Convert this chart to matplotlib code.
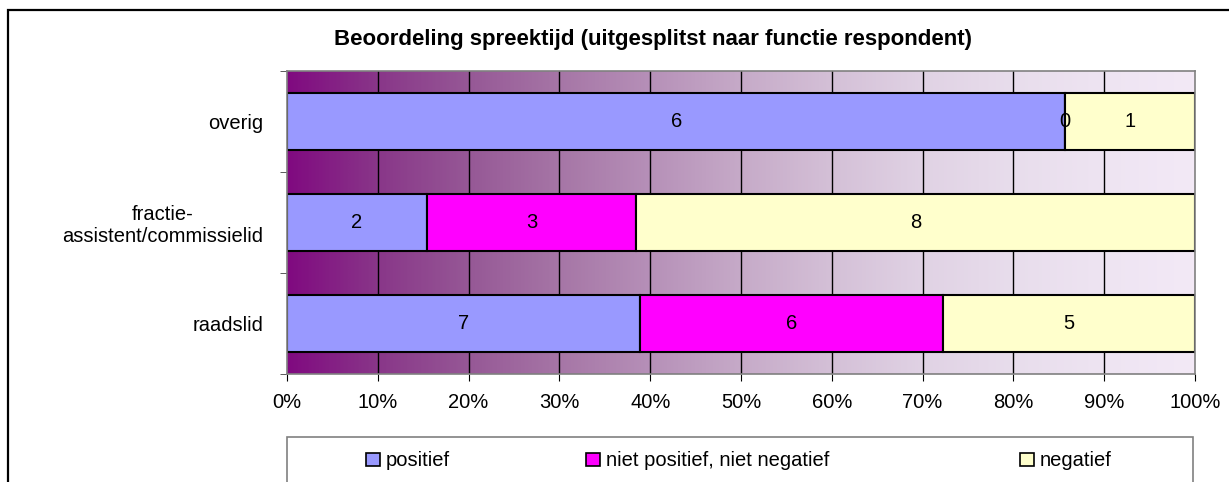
import matplotlib
matplotlib.use("Agg")
import matplotlib.pyplot as plt
import numpy as np
from matplotlib.patches import Patch, Rectangle
from matplotlib.colors import LinearSegmentedColormap

categories = ["raadslid", "fractie-\nassistent/commissielid", "overig"]
series_names = ["positief", "niet positief, niet negatief", "negatief"]
positief = [7, 2, 6]
neutraal = [6, 3, 0]
negatief = [5, 8, 1]
series_colors = ["#9999FF", "#FF00FF", "#FFFFCC"]
x_ticklabels = ["0%", "10%", "20%", "30%", "40%", "50%", "60%", "70%", "80%", "90%", "100%"]
title = "Beoordeling spreektijd (uitgesplitst naar functie respondent)"

plt.rcParams["font.family"] = ["Liberation Sans", "DejaVu Sans"]

W, H = 1229, 482
FS = 14.5
fig = plt.figure(figsize=(W / 100, H / 100), dpi=100)
fig.patch.set_facecolor("white")

# outer chart frame (clipped at right and bottom)
fig.patches.append(Rectangle((8 / W, -0.5), 2, 1.5 - 10 / H, transform=fig.transFigure,
                             fill=False, edgecolor="black", linewidth=1.6, zorder=0))

ax = fig.add_axes([287 / W, 1 - 374 / H, (1195 - 287) / W, (374 - 71) / H])

# gradient background
stops = [(0.0, (128, 10, 128)), (0.1, (137, 55, 137)), (0.2, (150, 88, 150)),
         (0.3, (166, 118, 166)), (0.4, (182, 144, 184)), (0.5, (198, 170, 200)),
         (0.6, (212, 192, 215)), (0.7, (224, 210, 228)), (0.8, (232, 221, 236)),
         (0.9, (238, 228, 242)), (1.0, (243, 233, 246))]
cmap = LinearSegmentedColormap.from_list("bg", [(p, tuple(c / 255 for c in rgb)) for p, rgb in stops])
grad = np.linspace(0, 1, 512).reshape(1, -1)
ax.imshow(grad, cmap=cmap, aspect="auto", extent=[0, 1, -0.5, len(categories) - 0.5],
          origin="lower", zorder=0, interpolation="bilinear")

data = np.array([positief, neutraal, negatief], dtype=float)
totals = data.sum(axis=0)
frac = data / totals
y = np.arange(len(categories))
left = np.zeros(len(categories))
for i in range(len(series_names)):
    ax.barh(y, frac[i], left=left, height=0.57, color=series_colors[i],
            edgecolor="black", linewidth=1.5, zorder=3)
    for j in range(len(categories)):
        ax.text(left[j] + frac[i][j] / 2, y[j], f"{int(data[i][j])}",
                ha="center", va="center", fontsize=FS, zorder=4)
    left = left + frac[i]

xt = np.linspace(0, 1, len(x_ticklabels))
for xv in xt[1:-1]:
    ax.axvline(xv, color="black", linewidth=1.0, zorder=1)

ax.set_xlim(0, 1)
ax.set_ylim(-0.5, len(categories) - 0.5)
ax.set_xticks(xt)
ax.set_xticklabels(x_ticklabels, fontsize=FS)
ax.set_yticks(y)
ax.set_yticklabels(categories, fontsize=FS)
ax.tick_params(axis="y", length=0, pad=17)
ax.set_yticks(np.arange(-0.5, len(categories)), minor=True)
ax.tick_params(axis="y", which="minor", length=5, color="#404040", direction="out")
ax.tick_params(axis="x", length=5, color="black", direction="out", pad=9)
for s in ax.spines.values():
    s.set_color("#808080")
    s.set_linewidth(1.2)
    s.set_zorder(5)

for lbl in ax.get_yticklabels():
    lbl.set_multialignment("center")

fig.text(653 / W, 1 - 40 / H, title, ha="center", va="center", fontsize=16,
         fontweight="bold")

# legend box
fig.patches.append(Rectangle((287 / W, -0.2), (1193 - 287) / W, 0.2 + (1 - 437 / H),
                             transform=fig.transFigure, fill=False,
                             edgecolor="#808080", linewidth=1.2))
legend_x = [366, 586, 1020]
for name, col, lx in zip(series_names, series_colors, legend_x):
    h = Patch(facecolor=col, edgecolor="black", linewidth=1.2)
    fig.legend([h], [name], loc="center left", bbox_to_anchor=(lx / W, 1 - 461 / H),
               frameon=False, fontsize=FS, handlelength=0.68, handleheight=0.68,
               handletextpad=0.3, borderpad=0, borderaxespad=0)

fig.savefig("out.png", dpi=100)
